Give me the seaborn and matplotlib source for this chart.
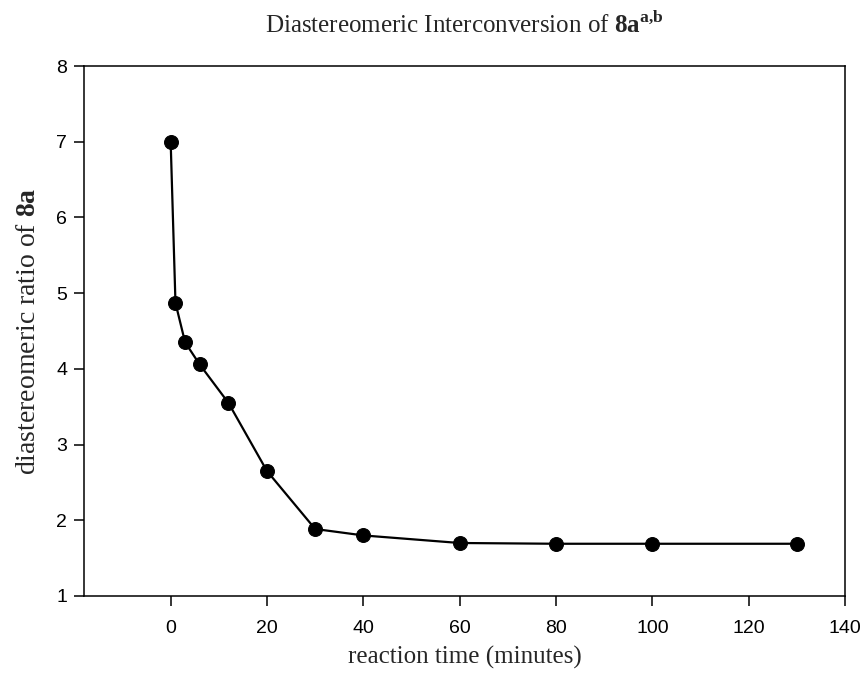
import pandas as pd
import matplotlib
matplotlib.use("Agg")
import matplotlib.pyplot as plt
import seaborn as sns

# reaction time (minutes) and diastereomeric ratio
time_min = [0, 1, 3, 6, 12, 20, 30, 40, 60, 80, 100, 130]
dr_ratio = [7.0, 4.87, 4.35, 4.06, 3.55, 2.65, 1.885, 1.80, 1.70, 1.69, 1.69, 1.69]
x_ticks = [0, 20, 40, 60, 80, 100, 120, 140]
y_ticks = [1, 2, 3, 4, 5, 6, 7, 8]

df = pd.DataFrame({'time': time_min, 'ratio': dr_ratio})

sns.set_style("ticks")
plt.rcParams['font.family'] = ['Liberation Sans', 'DejaVu Sans']
plt.rcParams['mathtext.fontset'] = 'custom'
plt.rcParams['mathtext.rm'] = 'Liberation Serif'
plt.rcParams['mathtext.bf'] = 'Liberation Serif:bold'

fig, ax = plt.subplots(figsize=(8.62, 6.82), dpi=100)
fig.subplots_adjust(left=0.0974, right=0.9803, top=0.9032, bottom=0.1261)

sns.lineplot(data=df, x='time', y='ratio', ax=ax, color='black', linewidth=1.6,
             marker='o', markersize=10, markeredgecolor='black', markerfacecolor='black')

ax.set_xlim(-18, 140)
ax.set_ylim(1, 8)
ax.set_xticks(x_ticks)
ax.set_yticks(y_ticks)
ax.tick_params(direction='out', length=7, width=1.1, colors='black', labelsize=14, pad=5)
ax.tick_params(axis='x', pad=10)

for side in ['left', 'right', 'top', 'bottom']:
    ax.spines[side].set_visible(True)
    ax.spines[side].set_color('black')
    ax.spines[side].set_linewidth(1.1)

serif = ['Liberation Serif', 'DejaVu Serif']
ax.set_title(r'Diastereomeric Interconversion of $\mathbf{8a}^{\mathbf{a{,}b}}$',
             family=serif, fontsize=18, pad=24)
ax.set_xlabel('reaction time (minutes)', family=serif, fontsize=18, labelpad=7)
ax.set_ylabel(r'diastereomeric ratio of $\mathbf{8a}$', family=serif, fontsize=20, labelpad=11)

fig.savefig('out.png', dpi=100, facecolor='white')
